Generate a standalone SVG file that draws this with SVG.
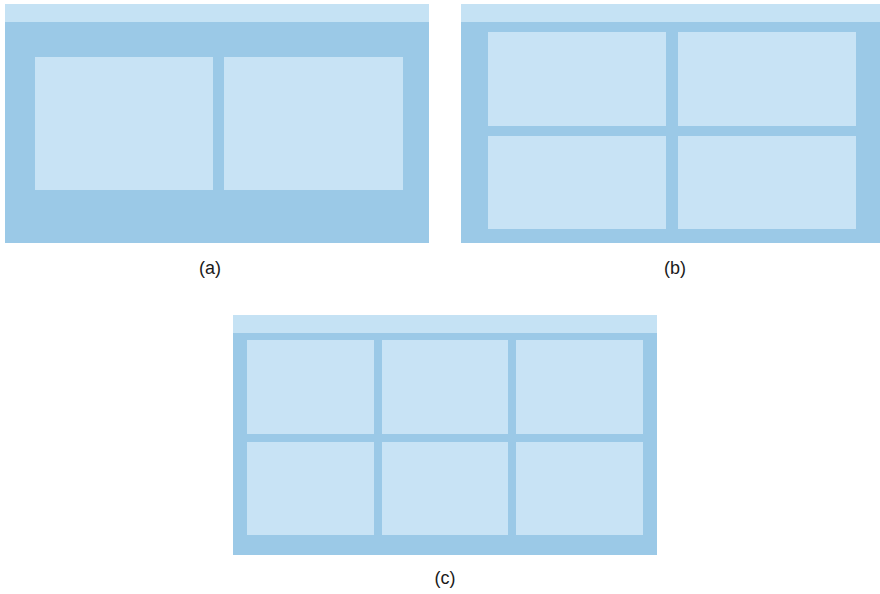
<svg xmlns="http://www.w3.org/2000/svg" width="880" height="594" viewBox="0 0 880 594">
<style>
.hdr{fill:#c5e2f4}
.body{fill:#9bc9e7}
.pnl{fill:#c8e3f5}
.lbl{font-family:"Liberation Sans",Arial,sans-serif;font-size:18px;fill:#1a1a1a;text-anchor:middle}
</style>
<rect width="880" height="594" fill="#ffffff"/>
<g id="layout-a">
<rect class="body" x="5" y="4" width="424" height="239"/>
<rect class="hdr" x="5" y="4" width="424" height="18"/>
<rect class="pnl" x="35" y="57" width="178" height="133"/>
<rect class="pnl" x="224" y="57" width="179" height="133"/>
<text class="lbl" x="210" y="274">(a)</text>
</g>
<g id="layout-b">
<rect class="body" x="461" y="4" width="419" height="239"/>
<rect class="hdr" x="461" y="4" width="419" height="18"/>
<rect class="pnl" x="488" y="32" width="178" height="94"/>
<rect class="pnl" x="678" y="32" width="178" height="94"/>
<rect class="pnl" x="488" y="136" width="178" height="93"/>
<rect class="pnl" x="678" y="136" width="178" height="93"/>
<text class="lbl" x="675" y="274">(b)</text>
</g>
<g id="layout-c">
<rect class="body" x="233" y="315" width="424" height="240"/>
<rect class="hdr" x="233" y="315" width="424" height="18"/>
<rect class="pnl" x="247" y="340" width="127" height="94"/>
<rect class="pnl" x="382" y="340" width="126" height="94"/>
<rect class="pnl" x="516" y="340" width="127" height="94"/>
<rect class="pnl" x="247" y="442" width="127" height="93"/>
<rect class="pnl" x="382" y="442" width="126" height="93"/>
<rect class="pnl" x="516" y="442" width="127" height="93"/>
<text class="lbl" x="445" y="584">(c)</text>
</g>
<g id="connectors"/>
</svg>
